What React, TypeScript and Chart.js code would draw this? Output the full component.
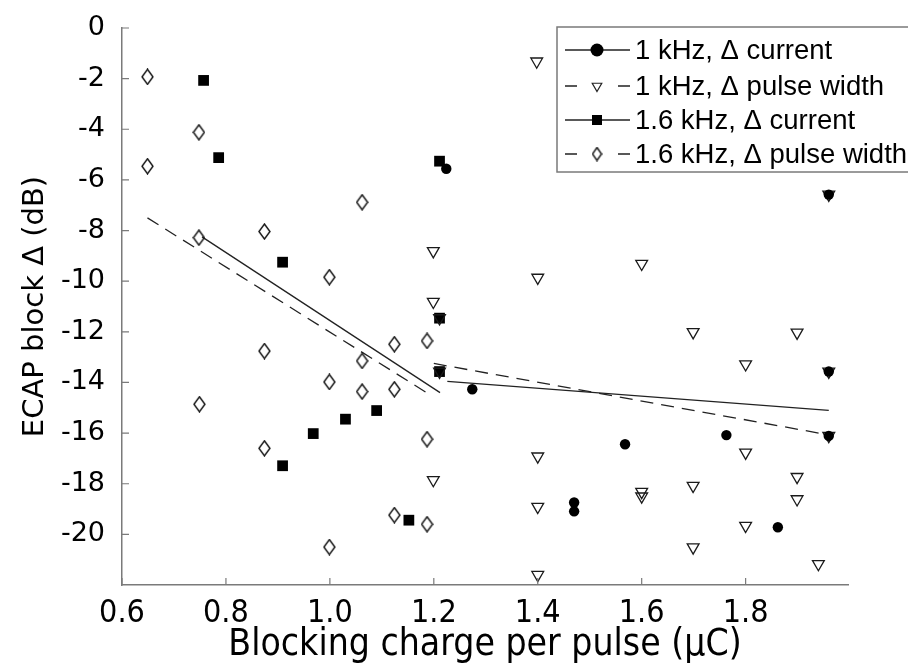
import { useEffect, useRef } from "react";
import { Chart, registerables } from "chart.js";

Chart.register(...registerables);

// ---- tick labels ----
const xTicks = [0.6, 0.8, 1.0, 1.2, 1.4, 1.6, 1.8];
const yTicks = [0, -2, -4, -6, -8, -10, -12, -14, -16, -18, -20];

// ---- 1 kHz, Δ current (filled circles) ----
const cur1kX = [1.224, 1.274, 1.47, 1.47, 1.568, 1.763, 1.862, 1.96, 1.96, 1.96];
const cur1kY = [-5.56, -14.27, -18.74, -19.09, -16.44, -16.08, -19.72, -6.58, -13.57, -16.11];

// ---- 1 kHz, Δ pulse width (open down-triangles) ----
const pw1kX = [1.199, 1.199, 1.199, 1.211, 1.211, 1.398, 1.4, 1.4, 1.4, 1.4, 1.6, 1.6, 1.6, 1.699, 1.699, 1.699, 1.8, 1.8, 1.8, 1.899, 1.899, 1.899, 1.94, 1.96, 1.96, 1.96];
const pw1kY = [-8.81, -10.81, -17.85, -11.46, -13.57, -1.32, -9.86, -16.92, -18.91, -21.6, -9.31, -18.32, -18.5, -12.01, -18.08, -20.51, -13.28, -16.77, -19.66, -12.03, -17.73, -18.61, -21.17, -6.58, -13.57, -16.11];

// ---- 1.6 kHz, Δ current (filled squares) ----
const cur16X = [0.757, 0.786, 0.909, 0.909, 0.968, 1.03, 1.09, 1.152, 1.211, 1.211, 1.211];
const cur16Y = [-2.07, -5.12, -9.25, -17.29, -16.02, -15.45, -15.11, -19.44, -5.26, -11.46, -13.57];

// ---- 1.6 kHz, Δ pulse width (open diamonds) ----
const pw16X = [0.649, 0.649, 0.748, 0.748, 0.749, 0.874, 0.874, 0.874, 0.999, 0.999, 0.999, 1.062, 1.062, 1.062, 1.124, 1.124, 1.124, 1.187, 1.187, 1.187];
const pw16Y = [-1.93, -5.46, -4.12, -8.28, -14.86, -8.04, -12.76, -16.6, -9.84, -13.98, -20.5, -6.88, -13.15, -14.36, -12.49, -14.27, -19.24, -12.36, -16.24, -19.6];

// ---- regression lines ----
const fitCur1kX = [1.226, 1.96];
const fitCur1kY = [-13.96, -15.1];
const fitPw1kX = [1.2, 1.96];
const fitPw1kY = [-13.25, -16.07];
const fitCur16X = [0.754, 1.212];
const fitCur16Y = [-8.25, -14.4];
const fitPw16X = [0.649, 1.196];
const fitPw16Y = [-7.5, -14.53];

const legendLabels = [
  "1 kHz, \u0394 current",
  "1 kHz, \u0394 pulse width",
  "1.6 kHz, \u0394 current",
  "1.6 kHz, \u0394 pulse width",
];

const zip = (xs: number[], ys: number[]) => xs.map((x, i) => ({ x, y: ys[i] }));

const LINE = "#222";
const AXIS = "#7a7a7a";
const COND_FONT = "'DejaVu Sans Condensed', 'DejaVu Sans', sans-serif";
const REG_FONT = "'DejaVu Sans', sans-serif";

function makeDiamond(w: number, h: number): HTMLCanvasElement {
  const c = document.createElement("canvas");
  c.width = w;
  c.height = h;
  const g = c.getContext("2d")!;
  g.strokeStyle = "#111";
  g.lineWidth = 1.4;
  g.beginPath();
  g.moveTo(w / 2, 1);
  g.lineTo(w - 1, h / 2);
  g.lineTo(w / 2, h - 1);
  g.lineTo(1, h / 2);
  g.closePath();
  g.stroke();
  return c;
}

export default function App() {
  const ref = useRef<HTMLCanvasElement | null>(null);

  useEffect(() => {
    if (!ref.current) return;
    const diamond = makeDiamond(13, 17);
    const legDiamond = makeDiamond(11, 15);

    const innerTicks = {
      id: "innerTicks",
      afterDraw(chart: any) {
        const { ctx, chartArea } = chart;
        const xs = chart.scales.x;
        const ys = chart.scales.y;
        ctx.save();
        ctx.strokeStyle = AXIS;
        ctx.lineWidth = 1.2;
        ctx.beginPath();
        xTicks.forEach((v) => {
          const px = xs.getPixelForValue(v);
          ctx.moveTo(px, chartArea.bottom);
          ctx.lineTo(px, chartArea.bottom - 7);
        });
        yTicks.forEach((v) => {
          const py = ys.getPixelForValue(v);
          ctx.moveTo(chartArea.left, py);
          ctx.lineTo(chartArea.left + 7, py);
        });
        ctx.stroke();
        ctx.restore();
      },
    };

    const customLegend = {
      id: "customLegend",
      afterDraw(chart: any) {
        const { ctx } = chart;
        ctx.save();
        const bx = 557, by = 27, bw = 370, bh = 145;
        ctx.fillStyle = "#fff";
        ctx.fillRect(bx, by, bw, bh);
        ctx.strokeStyle = AXIS;
        ctx.lineWidth = 1.5;
        ctx.strokeRect(bx, by, bw, bh);
        const rows = [50, 86, 120, 154];
        const x0 = 565, x1 = 630, mx = 597;
        ctx.font = "27.5px 'Liberation Sans', Arial, sans-serif";
        ctx.textBaseline = "middle";
        rows.forEach((ry, i) => {
          ctx.strokeStyle = LINE;
          ctx.lineWidth = 1.3;
          ctx.beginPath();
          if (i % 2 === 0) {
            ctx.moveTo(x0, ry);
            ctx.lineTo(x1, ry);
          } else {
            ctx.moveTo(x0, ry);
            ctx.lineTo(x0 + 12, ry);
            ctx.moveTo(x1 - 12, ry);
            ctx.lineTo(x1, ry);
          }
          ctx.stroke();
          ctx.fillStyle = "#000";
          ctx.strokeStyle = "#222";
          ctx.lineWidth = 1.2;
          if (i === 0) {
            ctx.beginPath();
            ctx.arc(mx, ry, 6.5, 0, Math.PI * 2);
            ctx.fill();
          } else if (i === 1) {
            const r = 5.5;
            ctx.beginPath();
            ctx.moveTo(mx, ry + r);
            ctx.lineTo(mx + r * Math.sin((2 * Math.PI) / 3), ry - r / 2);
            ctx.lineTo(mx - r * Math.sin((2 * Math.PI) / 3), ry - r / 2);
            ctx.closePath();
            ctx.stroke();
          } else if (i === 2) {
            ctx.fillRect(mx - 5, ry - 5, 10, 10);
          } else {
            ctx.drawImage(legDiamond, mx - legDiamond.width / 2, ry - legDiamond.height / 2);
          }
          ctx.fillStyle = "#000";
          ctx.fillText(legendLabels[i], 635, ry + 1);
        });
        ctx.restore();
      },
    };

    const fitLine = (xs: number[], ys: number[], dashed: boolean) => ({
      type: "line" as const,
      data: zip(xs, ys),
      borderColor: LINE,
      borderWidth: 1.3,
      borderDash: dashed ? [13, 8] : [],
      pointRadius: 0,
      showLine: true,
      fill: false,
      tension: 0,
      clip: false as any,
    });

    const chart = new Chart(ref.current, {
      type: "scatter",
      data: {
        datasets: [
          {
            data: zip(cur1kX, cur1kY),
            pointStyle: "circle",
            pointRadius: 5.2,
            backgroundColor: "#000",
            borderColor: "#000",
            borderWidth: 0,
            clip: false as any,
          },
          {
            data: zip(pw1kX, pw1kY),
            pointStyle: "triangle",
            rotation: 180,
            pointRadius: 6.8,
            backgroundColor: "rgba(0,0,0,0)",
            borderColor: "#1a1a1a",
            borderWidth: 1.3,
            clip: false as any,
          },
          {
            data: zip(cur16X, cur16Y),
            pointStyle: "rect",
            pointRadius: 7.6,
            backgroundColor: "#000",
            borderColor: "#000",
            borderWidth: 0,
            clip: false as any,
          },
          {
            data: zip(pw16X, pw16Y),
            pointStyle: diamond as any,
            pointRadius: 7,
            backgroundColor: "rgba(0,0,0,0)",
            borderColor: "#111",
            clip: false as any,
          },
          fitLine(fitCur1kX, fitCur1kY, false),
          fitLine(fitPw1kX, fitPw1kY, true),
          fitLine(fitCur16X, fitCur16Y, false),
          fitLine(fitPw16X, fitPw16Y, true),
        ] as any,
      },
      options: {
        animation: false,
        responsive: false,
        devicePixelRatio: 1,
        layout: { padding: { left: 0, right: 60, top: 28, bottom: 0 } },
        plugins: {
          legend: { display: false },
          tooltip: { enabled: false },
        },
        scales: {
          x: {
            type: "linear",
            min: 0.6,
            max: 1.997,
            afterBuildTicks: (s: any) => {
              s.ticks = xTicks.map((v) => ({ value: v }));
            },
            afterFit: (s: any) => {
              s.height = 83;
            },
            grid: { display: false },
            border: { display: true, color: AXIS, width: 1.5 },
            ticks: {
              color: "#000",
              padding: 1,
              maxRotation: 0,
              autoSkip: false,
              font: { family: COND_FONT, size: 32 },
              callback: (v: any) => Number(v).toFixed(1),
            },
            title: {
              display: true,
              text: "Blocking charge per pulse (\u03bcC)",
              color: "#000",
              font: { family: COND_FONT, size: 37, lineHeight: 1.2 },
              padding: { top: 0, bottom: 0 },
            },
          },
          y: {
            type: "linear",
            min: -22,
            max: 0,
            afterBuildTicks: (s: any) => {
              s.ticks = yTicks.map((v) => ({ value: v }));
            },
            afterFit: (s: any) => {
              s.width = 122;
            },
            grid: { display: false },
            border: { display: true, color: AXIS, width: 1.5 },
            ticks: {
              color: "#000",
              padding: 9,
              autoSkip: false,
              font: { family: REG_FONT, size: 27 },
            },
            title: {
              display: true,
              text: "ECAP block \u0394 (dB)",
              color: "#000",
              font: { family: REG_FONT, size: 29, lineHeight: 1.2 },
              padding: { top: 18, bottom: 0 },
            },
          },
        },
      },
      plugins: [innerTicks, customLegend],
    } as any);

    return () => chart.destroy();
  }, []);

  return (
    <div style={{ position: "absolute", left: 0, top: 0, width: 908, height: 668 }}>
      <canvas ref={ref} width={908} height={668} style={{ display: "block" }} />
    </div>
  );
}
